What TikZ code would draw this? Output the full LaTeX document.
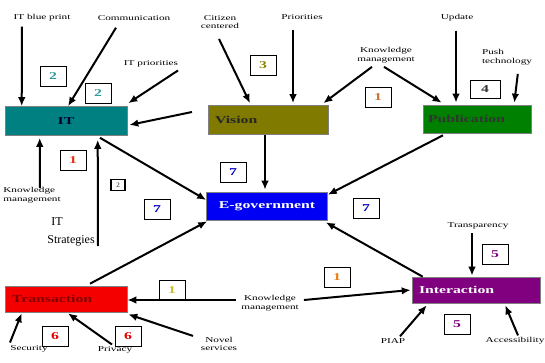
\documentclass[tikz,border=0pt]{standalone}
\usepackage{fontspec}
\setmainfont{Liberation Serif}
\newfontfamily\widefont[FakeStretch=1.5]{Liberation Serif}
\usetikzlibrary{arrows.meta}

\definecolor{itcol}{RGB}{0,128,128}
\definecolor{viscol}{RGB}{128,122,0}
\definecolor{pubcol}{RGB}{0,128,0}
\definecolor{egovcol}{RGB}{0,0,245}
\definecolor{trcol}{RGB}{245,0,0}
\definecolor{incol}{RGB}{128,0,128}

\tikzset{
  block/.style={draw=black!50, line width=0.6pt, minimum height=29pt, text width=#1,
    inner xsep=7pt, align=left, font=\widefont\fontsize{10.5}{11}\selectfont\bfseries},
  tag/.style={font=\widefont\fontsize{7.5}{8.5}\selectfont, align=center, inner sep=1pt},
  numbox/.style={draw, line width=0.6pt, minimum width=26pt, minimum height=20pt,
    inner sep=1pt, font=\widefont\fontsize{10.5}{11}\selectfont\bfseries},
  feed/.style={->, >={Latex[length=9pt,width=7.5pt]}, line width=2pt},
}

\begin{document}
\begin{tikzpicture}[x=1pt,y=-1pt]
\useasboundingbox[fill=white] (0,0) rectangle (545,363);

% main blocks
\node[block=108pt, fill=itcol, text=black!80!blue, align=center] (it) at (66,121) {IT};
\node[block=106pt, fill=viscol, text=black!85] (vision) at (268,120) {Vision};
\node[block=98pt, fill=pubcol, text=black!80, minimum height=28pt, inner xsep=5pt] (pub) at (477,119) {Publication};
\node[block=109pt, fill=egovcol, text=white, align=center, minimum height=28pt, inner xsep=6pt] (egov) at (267,206) {E-government};
\node[block=108pt, fill=trcol, text=red!50!black, minimum height=26pt] (trans) at (66,299) {Transaction};
\node[block=114pt, fill=incol, text=white, minimum height=26pt] (inter) at (476,290) {Interaction};

% labels
\node[tag] (blueprint) at (42,18) {IT blue print};
\node[tag] (comm) at (134,18) {Communication};
\node[tag] (itprio) at (151,64) {IT priorities};
\node[tag] (citizen) at (220,22) {Citizen\\centered};
\node[tag] (prio) at (302,17) {Priorities};
\node[tag] (kmtop) at (386,55) {Knowledge\\management};
\node[tag] (update) at (457,18) {Update};
\node[tag, align=left] (push) at (507,57) {Push\\technology};
\node[tag, align=left] (kmleft) at (32,195) {Knowledge\\management};
\node[align=left, inner sep=0pt, font=\fontsize{12}{18}\selectfont] (strat) at (71,232) {\hspace{4pt}IT\\Strategies};
\node[tag] (kmmid) at (270,303) {Knowledge\\management};
\node[tag] (transp) at (478,226) {Transparency};
\node[tag] (secur) at (29,349) {Security};
\node[tag] (priv) at (115,350) {Privacy};
\node[tag] (novel) at (219,344) {Novel\\services};
\node[tag] (piap) at (393,341) {PIAP};
\node[tag] (access) at (515,341) {Accessibility};

% numbered boxes
\node[numbox, text=itcol!80!white] (n2a) at (53,76) {2};
\node[numbox, text=itcol!80!white] (n2b) at (98,93) {2};
\node[numbox, text=viscol!90!yellow] (n3) at (263,65) {3};
\node[numbox, text=brown!90!red] (n1top) at (378,97) {1};
\node[numbox, minimum width=30pt, minimum height=18pt, text=black!80] (n4) at (485,89) {4};
\node[numbox, text=red!60!brown] (n1left) at (73,160) {1};
\node[draw, line width=1.8pt, minimum width=14pt, minimum height=11pt, inner sep=0pt,
  text=black!60, font=\fontsize{7}{8}\selectfont\bfseries] (n2c) at (118,185) {2};
\node[numbox, text=egovcol!80!black] (n7a) at (157,209) {7};
\node[numbox, text=egovcol!80!black] (n7b) at (233,172) {7};
\node[numbox, text=egovcol!80!black] (n7c) at (366,208) {7};
\node[numbox, text=incol] (n5a) at (495,254) {5};
\node[numbox, text=incol] (n5b) at (457,324) {5};
\node[numbox, text=orange!70!brown] (n1mid) at (337,277) {1};
\node[numbox, text=yellow!75!black] (n1tr) at (172,290) {1};
\node[numbox, text=red!90!black] (n6a) at (55,336) {6};
\node[numbox, text=red!90!black] (n6b) at (128,336) {6};

\coordinate (visleft) at (192,112);
\coordinate (strattail) at (98,246);

% arrows into IT
\draw[feed] ([xshift=-20pt,yshift=-4pt]blueprint.south) -- ([xshift=17pt]it.north west);
\draw[feed] ([xshift=-18pt,yshift=-6pt]comm.south) -- ([xshift=2pt]it.north);
\draw[feed] ([xshift=27pt,yshift=-2pt]itprio.south) -- ([xshift=1pt,yshift=3pt]it.north east);
\draw[feed] (visleft) -- ([xshift=2pt,yshift=-4pt]it.east);
\draw[feed] ([xshift=8pt,yshift=-2pt]kmleft.north) -- ([xshift=35pt,yshift=-2pt]it.south west);
\draw[feed] (strattail) -- ([xshift=93pt,yshift=-4pt]it.south west);

% arrows into Vision
\draw[feed] ([xshift=-1pt,yshift=-9pt]citizen.south) -- ([xshift=-18pt,yshift=2pt]vision.north);
\draw[feed] ([xshift=-9pt,yshift=-9pt]prio.south) -- ([xshift=25pt,yshift=2pt]vision.north);
\draw[feed] ([xshift=-14pt,yshift=-3pt]kmtop.south) -- ([xshift=-5pt,yshift=2pt]vision.north east);

% arrows into Publication
\draw[feed] ([xshift=-2pt,yshift=-3pt]kmtop.south) -- ([xshift=19pt,yshift=2pt]pub.north west);
\draw[feed] ([yshift=-8pt,xshift=-1pt]update.south) -- ([xshift=-21pt,yshift=2pt]pub.north);
\draw[feed] ([xshift=37pt,yshift=-8pt]push.south west) -- ([xshift=-17pt,yshift=2pt]pub.north east);

% arrows into E-government
\draw[feed] ([xshift=-3pt]vision.south) -- ([xshift=-2pt,yshift=2pt]egov.north);
\draw[feed] ([xshift=34pt,yshift=-2pt]it.south) -- ([yshift=6pt]egov.west);
\draw[feed] ([xshift=-34pt,yshift=-2pt]pub.south) -- ([yshift=-3pt]egov.north east);
\draw[feed] ([xshift=11pt]inter.north west) -- ([xshift=-2pt,yshift=-2pt]egov.south east);
\draw[feed] ([xshift=24pt,yshift=2pt]trans.north) -- ([xshift=1pt,yshift=-1pt]egov.south west);

% arrows into Transaction and Interaction
\draw[feed] ([xshift=-4pt,yshift=3pt]kmmid.west) -- ([yshift=-1pt]trans.east);
\draw[feed] ([xshift=4pt,yshift=3pt]kmmid.east) -- ([xshift=-1pt]inter.west);
\draw[feed] ([xshift=-19pt,yshift=2pt]secur.north) -- ([xshift=17pt,yshift=-1pt]trans.south west);
\draw[feed] ([xshift=-3pt,yshift=1pt]priv.north) -- ([xshift=2pt,yshift=-1pt]trans.south);
\draw[feed] ([xshift=-26pt,yshift=0pt]novel.north) -- ([xshift=1pt,yshift=-2pt]trans.south east);
\draw[feed] ([xshift=-6pt,yshift=-3pt]transp.south) -- ([xshift=-4pt,yshift=1pt]inter.north);
\draw[feed] ([xshift=7pt,yshift=1pt]piap.north) -- ([xshift=15pt,yshift=-2pt]inter.south west);
\draw[feed] ([xshift=3pt,yshift=1pt]access.north) -- ([xshift=-35pt,yshift=-2pt]inter.south east);
\end{tikzpicture}
\end{document}
